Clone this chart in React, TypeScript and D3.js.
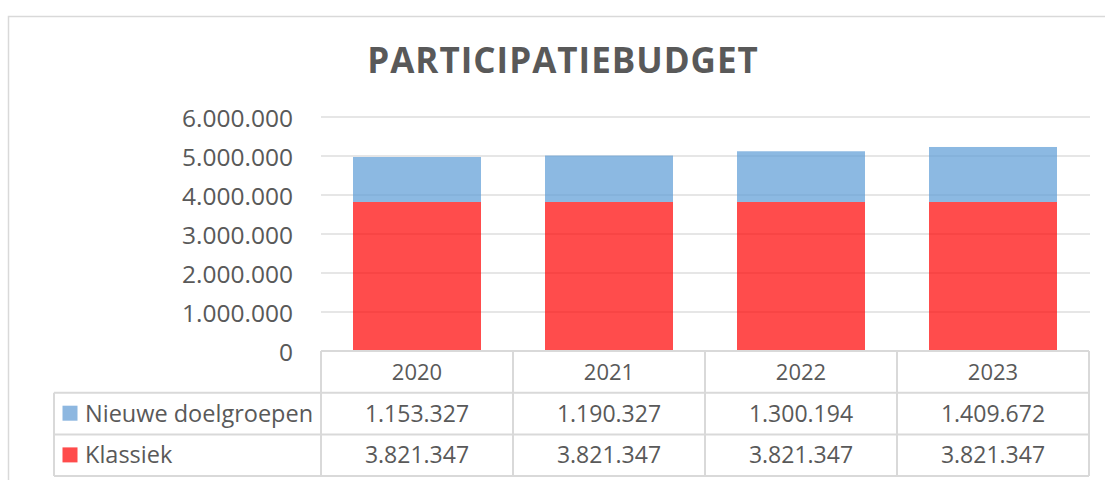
import React from "react";
import * as d3 from "d3";

const years = ["2020", "2021", "2022", "2023"];
const nieuweDoelgroepen = [1153327, 1190327, 1300194, 1409672];
const klassiek = [3821347, 3821347, 3821347, 3821347];
const yTicks = [0, 1000000, 2000000, 3000000, 4000000, 5000000, 6000000];
const seriesNames = ["Nieuwe doelgroepen", "Klassiek"];
const title = "PARTICIPATIEBUDGET";

const W = 1105;
const H = 480;
const FONT = "'Open Sans', sans-serif";
const TEXT = "#595959";
const LINE = "#d9d9d9";

const nl = d3.formatLocale({ decimal: ",", thousands: ".", grouping: [3], currency: ["€", ""] });
const fmt = nl.format(",d");

export default function App() {
  const left = 321;
  const right = 1089;
  const y = d3.scaleLinear().domain([0, 6000000]).range([351, 117]);
  const xCol = d3.scaleBand<string>().domain(years).range([left, right]).padding(0);
  const xBar = d3
    .scaleBand<string>()
    .domain(years)
    .range([left, right])
    .paddingInner(1 / 3)
    .paddingOuter(1 / 6);

  const stack = d3
    .stack<any>()
    .keys(["klassiek", "nieuwe"])(
      years.map((yr, i) => ({ year: yr, klassiek: klassiek[i], nieuwe: nieuweDoelgroepen[i] }))
    );
  const colors: Record<string, string> = { klassiek: "#FF0000", nieuwe: "#5B9BD5" };

  const headerTop = y(0);
  const rowH = 41.7;
  const rows = [headerTop, headerTop + rowH, headerTop + 2 * rowH, headerTop + 3 * rowH];
  const legendLeft = 54;
  const tableData = [nieuweDoelgroepen, klassiek];
  const swatch = ["#8DB7E0", "#FF4B4B"];

  return (
    <svg
      width={W}
      height={H}
      style={{ position: "absolute", left: 0, top: 0, background: "#fff" }}
      fontFamily={FONT}
    >
      <rect x={8.5} y={16.5} width={1200} height={600} fill="#fff" stroke={LINE} strokeWidth={1.5} />
      <text
        x={563}
        y={72.5}
        textAnchor="middle"
        fontSize={35}
        fontWeight={700}
        letterSpacing={1}
        fill={TEXT}
      >
        {title}
      </text>

      {/* gridlines */}
      {yTicks.slice(1).map((t) => (
        <line key={t} x1={left} x2={right + 1} y1={y(t)} y2={y(t)} stroke="#e6e6e6" strokeWidth={2} />
      ))}

      {/* bars */}
      {stack.map((s) =>
        s.map((d: any, i: number) => (
          <rect
            key={s.key + i}
            x={xBar(years[i])}
            width={xBar.bandwidth()}
            y={y(d[1])}
            height={y(d[0]) - y(d[1])}
            fill={colors[s.key]}
            fillOpacity={0.7}
          />
        ))
      )}

      {/* y tick labels */}
      {yTicks.map((t) => (
        <text key={t} x={293} y={y(t) + 10} textAnchor="end" fontSize={24.5} fill={TEXT}>
          {fmt(t)}
        </text>
      ))}

      {/* data table */}
      <g stroke={LINE} strokeWidth={2} fill="none">
        <line x1={left} x2={right} y1={rows[0]} y2={rows[0]} />
        {rows.slice(1).map((r, i) => (
          <line key={i} x1={legendLeft} x2={right} y1={r} y2={r} />
        ))}
        {[...years.map((yr) => xCol(yr) as number), right].map((xv, i) => (
          <line key={"v" + i} x1={xv} x2={xv} y1={rows[0]} y2={rows[3]} />
        ))}
        <line x1={legendLeft} x2={legendLeft} y1={rows[1]} y2={rows[3]} />
      </g>

      {years.map((yr) => (
        <text
          key={yr}
          x={(xCol(yr) as number) + xCol.bandwidth() / 2}
          y={rows[0] + rowH / 2 + 8}
          textAnchor="middle"
          fontSize={22}
          fill={TEXT}
        >
          {yr}
        </text>
      ))}

      {seriesNames.map((name, r) => (
        <g key={name}>
          <rect x={62.5} y={rows[r + 1] + 13} width={15} height={15} fill={swatch[r]} />
          <text x={85} y={rows[r + 1] + rowH / 2 + 8} fontSize={23.5} fill={TEXT}>
            {name}
          </text>
          {years.map((yr, i) => (
            <text
              key={yr}
              x={(xCol(yr) as number) + xCol.bandwidth() / 2}
              y={rows[r + 1] + rowH / 2 + 8}
              textAnchor="middle"
              fontSize={23}
              fill={TEXT}
            >
              {fmt(tableData[r][i])}
            </text>
          ))}
        </g>
      ))}
    </svg>
  );
}
